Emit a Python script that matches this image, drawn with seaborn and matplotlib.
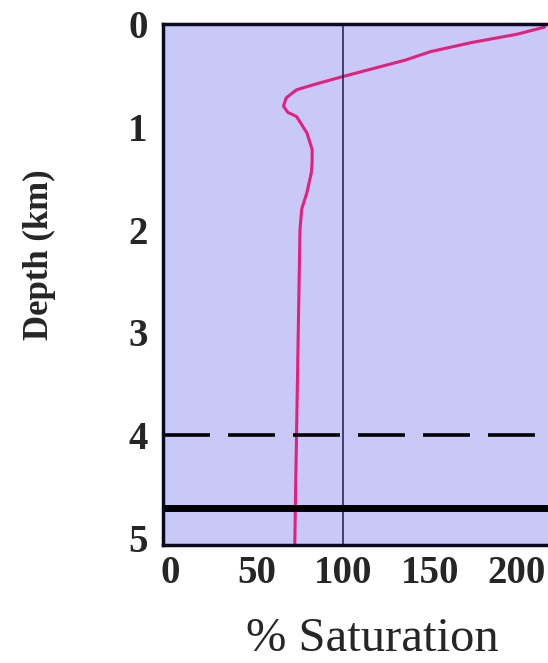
import numpy as np
import pandas as pd
import matplotlib
matplotlib.use('Agg')
import matplotlib.pyplot as plt
import seaborn as sns

# Saturation profile
saturation = [216, 200, 174, 150, 136, 118, 100, 85, 73, 67, 65.5, 68, 73, 79, 82, 82, 81.5, 79, 76, 75, 74.5, 74, 73.5, 73, 72.5, 72]
depth = [0.03, 0.10, 0.18, 0.27, 0.35, 0.43, 0.51, 0.58, 0.64, 0.72, 0.80, 0.86, 0.90, 1.06, 1.22, 1.35, 1.45, 1.64, 1.80, 2.0, 2.5, 3.0, 3.5, 4.0, 4.5, 5.07]

x_ticks = [0, 50, 100, 150, 200]
y_ticks = [0, 1, 2, 3, 4, 5]
saturation_line = 100
dashed_depth = 4.0
solid_depth = 4.71

df = pd.DataFrame({'Saturation': saturation, 'Depth': depth})

sns.set_style('white')
plt.rcParams['font.family'] = ['Liberation Serif', 'DejaVu Serif']

fig = plt.figure(figsize=(5.48, 6.63), dpi=100)
ax = fig.add_axes([0.2974, 0.178, 0.7026, 0.7858])
ax.set_facecolor('#c9c9f7')

sns.lineplot(data=df, x='Saturation', y='Depth', sort=False, estimator=None,
             color='#e3207c', linewidth=2.2, ax=ax)

ax.axvline(saturation_line, color='#1c1c4a', linewidth=1.1)
ax.axhline(dashed_depth, color='black', linewidth=2.6, linestyle=(0, (13, 5)))
ax.axhline(solid_depth, color='black', linewidth=5)

ax.set_xlim(-4, 218)
ax.set_ylim(5.07, 0)
ax.set_xticks(x_ticks)
ax.set_yticks(y_ticks)
ax.tick_params(direction='in', length=6, width=1.2, color='#1c1c4a',
               labelsize=28)
ax.tick_params(axis='y', pad=11)
ax.tick_params(axis='x', pad=7)
for lab in ax.get_xticklabels() + ax.get_yticklabels():
    lab.set_fontweight('bold')

for side in ['left', 'top', 'bottom']:
    ax.spines[side].set_linewidth(2.5)
    ax.spines[side].set_color('#0a0a20')
ax.spines['right'].set_visible(False)

ax.set_xlabel('% Saturation', fontsize=35)
ax.set_ylabel('Depth (km)', fontsize=25, fontweight='bold')
ax.xaxis.set_label_coords(0.543, -0.138)
ax.yaxis.set_label_coords(-0.278, 0.557)

fig.savefig('out.png', dpi=100, facecolor='white')
